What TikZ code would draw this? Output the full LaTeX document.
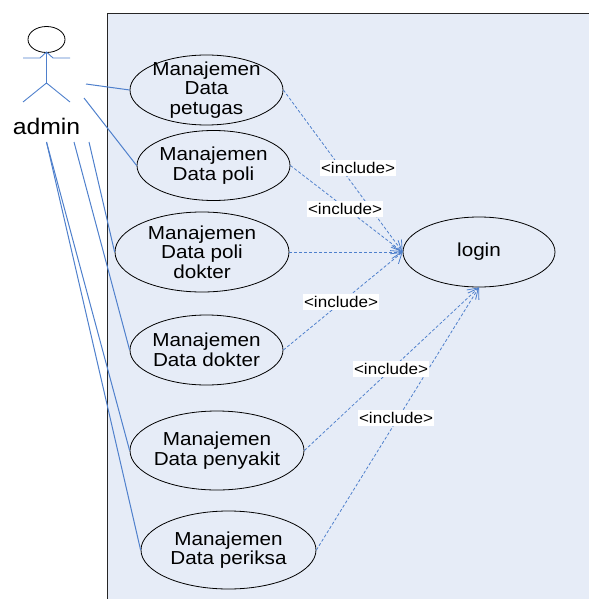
\documentclass[tikz,border=0pt]{standalone}
\usepackage{fontspec}
\setmainfont[FakeStretch=1.1]{Liberation Sans}
\usetikzlibrary{arrows.meta,positioning,shapes.geometric}
\definecolor{sysfill}{HTML}{E6ECF7}
\definecolor{linkblue}{HTML}{4F80CC}
\tikzset{
  usecase/.style={draw=black,line width=.8pt,ellipse,inner sep=-6pt,align=center,font=\fontsize{18.8}{19.5}\selectfont},
  inclabel/.style={fill=white,inner sep=1pt,minimum height=16pt,font=\fontsize{15.5}{16}\selectfont},
  assoc/.style={draw=linkblue,line width=1pt},
  incl/.style={draw=linkblue,dash pattern=on 3pt off 2pt,line width=.8pt,-{Straight Barb[length=10pt,width=13pt,sep=0pt]}},
  limb/.style={draw=linkblue,line width=.9pt}
}
\begin{document}
\begin{tikzpicture}[x=1pt,y=-1pt]
\useasboundingbox (0,0) rectangle (589,599);

\fill[sysfill] (107,14) rectangle (589,599);
\draw[black!85,line width=1pt] (107,599) -- (107,14) -- (589,14);

% actor
\node[draw=black,line width=.8pt,ellipse,minimum width=37pt,minimum height=26pt,inner sep=0pt] (head) at (46.5,39.5) {};
\coordinate (hip) at (46.5,83);
\coordinate (armL) at (23,58);
\coordinate (armR) at (70,58);
\coordinate (legL) at (23,102);
\coordinate (legR) at (70,102);
\draw[limb] (head.south) -- (hip);
\draw[limb] (armL) -- (40,58) -- (46.5,52) -- (53,58) -- (armR);
\draw[limb] (legL) -- (hip) -- (legR);
\node[font=\fontsize{22.5}{24}\selectfont] (admin) at (46.5,126) {admin};

% use cases
\node[usecase,minimum width=153pt,minimum height=70pt] (petugas) at (206.5,90) {Manajemen\\Data\\petugas};
\node[usecase,minimum width=153pt,minimum height=70pt] (poli) at (213.5,165.5) {Manajemen\\Data poli};
\node[usecase,minimum width=174pt,minimum height=80pt] (polidokter) at (202,252) {Manajemen\\Data poli\\dokter};
\node[usecase,minimum width=153pt,minimum height=70pt] (dokter) at (206.5,350) {Manajemen\\Data dokter};
\node[usecase,minimum width=174pt,minimum height=79pt] (penyakit) at (217,450.5) {Manajemen\\Data penyakit};
\node[usecase,minimum width=175pt,minimum height=78pt] (periksa) at (228.5,550) {Manajemen\\Data periksa};
\node[usecase,minimum width=152pt,minimum height=70pt] (login) at (479,252) {login};

% actor links
\coordinate (a1) at (86,84);
\coordinate (a2) at (84,98);
\coordinate (a3) at (89,142);
\coordinate (a4) at (74,142);
\coordinate (a5) at (46.5,142);
\draw[assoc] (a1) -- (petugas.west);
\draw[assoc] (a2) -- (poli.west);
\draw[assoc] (a3) -- (polidokter.west);
\draw[assoc] (a4) -- (dokter.west);
\draw[assoc] (a5) -- (penyakit.west);
\draw[assoc] (a5) -- (periksa.west);

% include links
\draw[incl] (petugas.east) -- (login.west);
\draw[incl] (poli.east) -- (login.west);
\draw[incl] (polidokter.east) -- (login.west);
\draw[incl] (dokter.east) -- (login.west);
\draw[incl] (penyakit.east) -- (login.south);
\draw[incl] (periksa.east) -- (login.south);

% labels sit beside the middle of their links
\node[inclabel] (inc1) at (358,168) {<include>};
\node[inclabel] (inc2) at (345,209) {<include>};
\node[inclabel] (inc3) at (341,302) {<include>};
\node[inclabel] (inc4) at (391,369) {<include>};
\node[inclabel] (inc5) at (396,418) {<include>};

\end{tikzpicture}
\end{document}
